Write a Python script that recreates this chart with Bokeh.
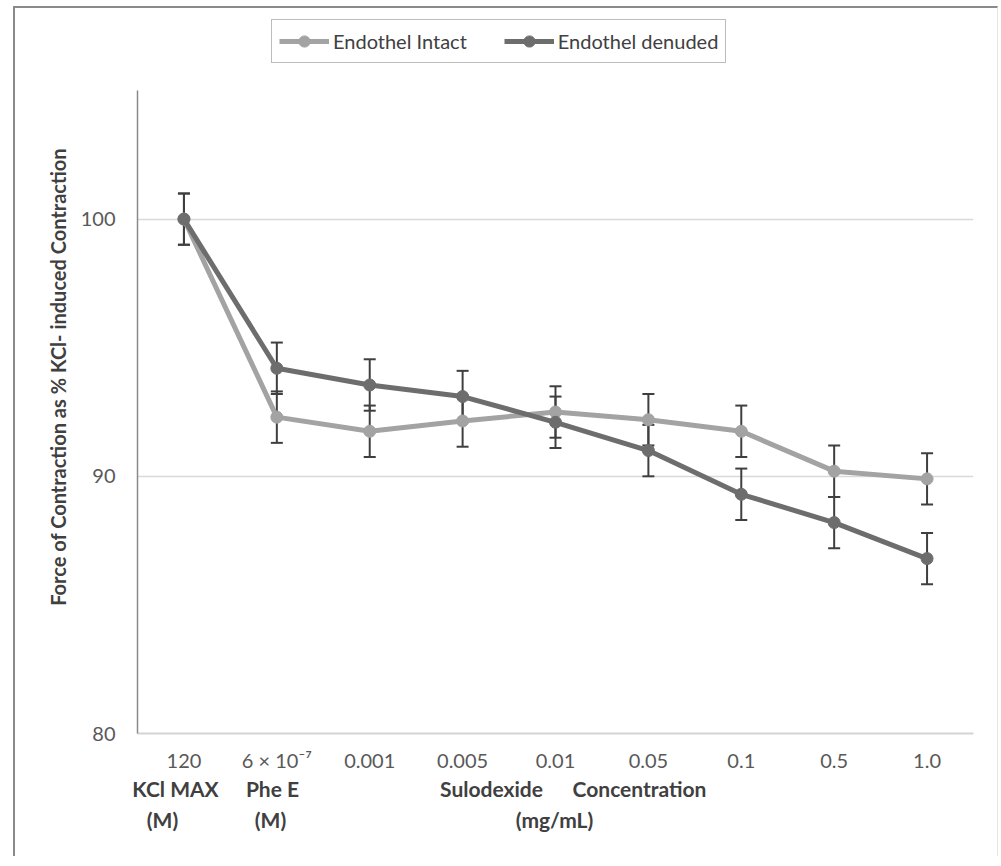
import math
from bokeh.plotting import figure
from bokeh.models import (ColumnDataSource, Range1d, FixedTicker, Whisker,
                          TeeHead, Legend, LegendItem, LinearAxis, InlineStyleSheet)
from bokeh.embed import file_html
from bokeh.resources import INLINE

# ---- data ----
categories = ["120", "6 × 10⁻⁷", "0.001", "0.005", "0.01", "0.05", "0.1", "0.5", "1.0"]
intact = [100.0, 92.3, 91.75, 92.15, 92.5, 92.2, 91.75, 90.2, 89.9]
intact_err = [1.0, 1.0, 1.0, 1.0, 1.0, 1.0, 1.0, 1.0, 1.0]
denuded = [100.0, 94.2, 93.55, 93.1, 92.1, 91.0, 89.3, 88.2, 86.8]
denuded_err = [1.0, 1.0, 1.0, 1.0, 1.0, 1.0, 1.0, 1.0, 1.0]
y_ticks = [80, 90, 100]
y_min, y_max = 80, 105
series_names = ["Endothel Intact", "Endothel denuded"]
y_title = "Force of Contraction as %  KCl- induced Contraction"
group_line1 = ["KCl MAX", "Phe E", "Sulodexide", "Concentration"]
group_line2 = ["(M)", "(M)", "(mg/mL)"]
# horizontal placement of the group captions (pixels from the plot's left edge)
group_line1_pos = [38, 135, 354, 502]
group_line2_pos = [25, 133, 417]

FONT = "Lato"
C_INTACT = "#a3a3a3"
C_DEN = "#6d6d6d"
C_ERR = "#3f3f3f"
W, H = 985, 850
BL, BR, BT, BB = 122, 27, 7, 125
FRAME_W = W - BL - BR
FRAME_H = H - BT - BB
AXIS_H = 643                      # pixel height of the 80..105 value span
y_top = y_min + (y_max - y_min) * FRAME_H / AXIS_H   # room above for the legend

xpos = list(range(len(categories)))
src_i = ColumnDataSource(dict(x=xpos, y=intact,
                              lo=[v - e for v, e in zip(intact, intact_err)],
                              hi=[v + e for v, e in zip(intact, intact_err)]))
src_d = ColumnDataSource(dict(x=xpos, y=denuded,
                              lo=[v - e for v, e in zip(denuded, denuded_err)],
                              hi=[v + e for v, e in zip(denuded, denuded_err)]))

p = figure(width=W, height=H, x_range=Range1d(-0.5, len(categories) - 0.5),
           y_range=Range1d(y_min, y_top), output_backend="svg", toolbar_location=None,
           min_border_left=BL, min_border_right=BR, min_border_top=BT, min_border_bottom=BB)
p.stylesheets = [InlineStyleSheet(css=":host { border-left: 2px solid #8a8a8a; border-top: 2px solid #8a8a8a; border-right: 1px solid #e6e6e6; margin-left: 13px; margin-top: 6px; }")]
p.outline_line_color = None
p.background_fill_color = "white"
p.border_fill_color = "white"
p.extra_x_ranges = {"grp": Range1d(0, FRAME_W)}

# grid
p.xgrid.grid_line_color = None
p.ygrid.ticker = FixedTicker(ticks=y_ticks)
p.ygrid.grid_line_color = "#d9d9d9"
p.ygrid.grid_line_width = 1.5

# axes
p.yaxis.ticker = FixedTicker(ticks=y_ticks)
p.yaxis.bounds = (y_min, y_max)
p.yaxis.axis_line_color = "#8a8a8a"
p.yaxis.axis_line_width = 1.5
p.yaxis.major_tick_line_color = None
p.yaxis.minor_tick_line_color = None
p.yaxis.major_label_standoff = 16
p.yaxis.major_label_text_font = FONT
p.yaxis.major_label_text_font_size = "20px"
p.yaxis.major_label_text_color = "#595959"

# second left axis only carrying the title
title_axis = LinearAxis(ticker=FixedTicker(ticks=[]), bounds=(83, y_max),
                        axis_line_color=None, major_tick_line_color=None,
                        minor_tick_line_color=None, axis_label=y_title,
                        axis_label_standoff=8, axis_label_text_font=FONT,
                        axis_label_text_font_size="20px", axis_label_text_font_style="bold",
                        axis_label_text_color="#404040")
p.add_layout(title_axis, "left")

p.xaxis.ticker = FixedTicker(ticks=xpos)
p.xaxis.major_label_overrides = {i: c for i, c in zip(xpos, categories)}
p.xaxis.axis_line_color = "#d4d4d4"
p.xaxis.axis_line_width = 2
p.xaxis.major_tick_line_color = None
p.xaxis.minor_tick_line_color = None
p.xaxis.major_label_standoff = 8
p.xaxis.major_label_text_font = FONT
p.xaxis.major_label_text_font_size = "20px"
p.xaxis.major_label_text_color = "#595959"

# caption rows under the x axis
for labels, pos, standoff in ((group_line1, group_line1_pos, -5), (group_line2, group_line2_pos, -3)):
    ax = LinearAxis(x_range_name="grp", ticker=FixedTicker(ticks=pos),
                    major_label_overrides={k: t for k, t in zip(pos, labels)},
                    axis_line_color=None, major_tick_line_color=None, minor_tick_line_color=None,
                    major_label_standoff=standoff, major_label_text_font=FONT,
                    major_label_text_font_size="21px", major_label_text_font_style="bold",
                    major_label_text_color="#404040")
    p.add_layout(ax, "below")

# error bars
for src in (src_i, src_d):
    w = Whisker(base="x", lower="lo", upper="hi", source=src, level="underlay",
                line_color=C_ERR, line_width=2,
                upper_head=TeeHead(size=12, line_color=C_ERR, line_width=2),
                lower_head=TeeHead(size=12, line_color=C_ERR, line_width=2))
    p.add_layout(w)

# series
l1 = p.line("x", "y", source=src_i, line_color=C_INTACT, line_width=5)
s1 = p.scatter("x", "y", source=src_i, size=12, fill_color=C_INTACT, line_color=C_INTACT)
l2 = p.line("x", "y", source=src_d, line_color=C_DEN, line_width=5)
s2 = p.scatter("x", "y", source=src_d, size=12, fill_color=C_DEN, line_color=C_DEN)

legend = Legend(items=[LegendItem(label=series_names[0], renderers=[l1, s1]),
                       LegendItem(label=series_names[1], renderers=[l2, s2])],
                orientation="horizontal", location=(134, 670),
                border_line_color="#7a7a7a", border_line_width=1.5,
                label_text_font=FONT, label_text_font_size="20px", label_text_color="#404040",
                glyph_width=50, glyph_height=28, label_height=20, label_standoff=4, spacing=37,
                padding=7, margin=0)
p.add_layout(legend, "center")

open("out.html", "w").write(file_html(p, INLINE))
